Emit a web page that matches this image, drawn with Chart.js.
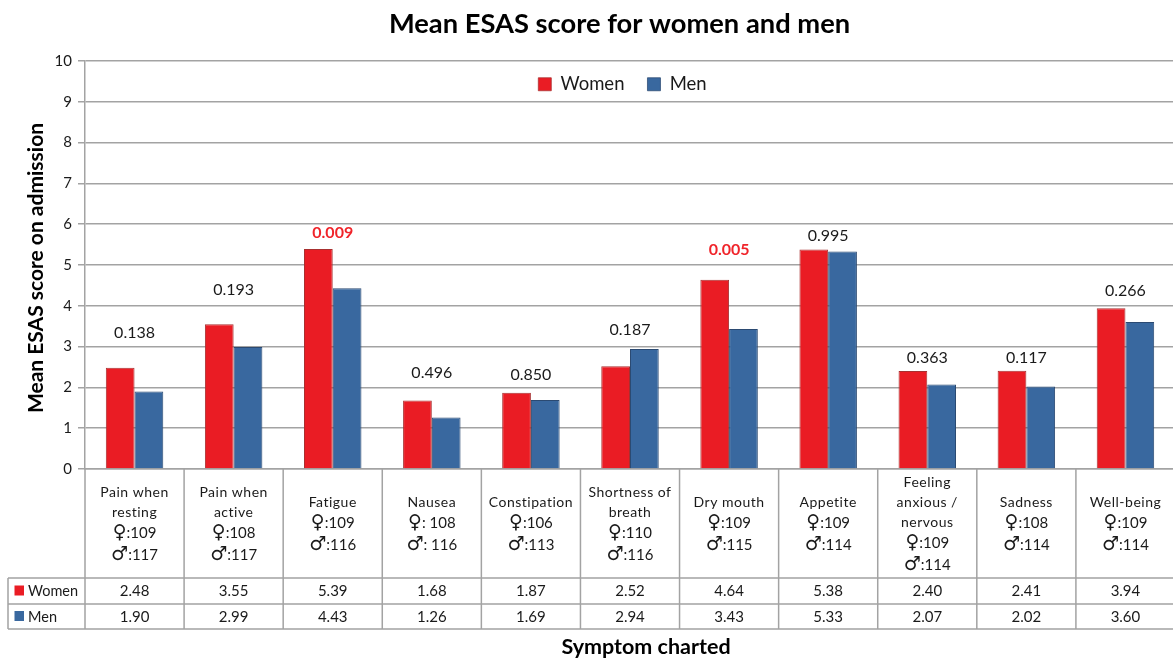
<!DOCTYPE html>
<html><head><meta charset="utf-8">
<style>html,body{margin:0;padding:0;background:#fff;overflow:hidden;width:1173px;height:659px}canvas{display:block}</style>
<script src="https://cdn.jsdelivr.net/npm/chart.js@4"></script></head>
<body><canvas id="c" width="1176" height="659"></canvas>
<script>
const categories=[["Pain when","resting"],["Pain when","active"],["Fatigue"],["Nausea"],["Constipation"],["Shortness of","breath"],["Dry mouth"],["Appetite"],["Feeling","anxious /","nervous"],["Sadness"],["Well-being"]];
const women=[2.48,3.55,5.39,1.68,1.87,2.52,4.64,5.38,2.40,2.41,3.94];
const men=[1.90,2.99,4.43,1.26,1.69,2.94,3.43,5.33,2.07,2.02,3.60];
const womenN=[":109",":108",":109",": 108",":106",":110",":109",":109",":109",":108",":109"];
const menN=[":117",":117",":116",": 116",":113",":116",":115",":114",":114",":114",":114"];
const pValues=["0.138","0.193","0.009","0.496","0.850","0.187","0.005","0.995","0.363","0.117","0.266"];
const pLevels=[3.33,4.39,5.78,2.35,2.30,3.40,5.37,5.71,2.72,2.72,4.36];
const significant=["0.009","0.005"];
const symptomTitle="Symptom charted";
const scoreTitle="Mean ESAS score on admission";
const RED="#ea1c24",BLUE="#39689f",LINE="#a3a3a3",TXT="#1a1a1a";
const BODY="Lato, 'DejaVu Sans', sans-serif";

const tablePlugin={id:"table",
 beforeLayout(chart){
  const lg=chart.legend;
  if(lg&&!lg._patched){const f=lg.fit;lg.fit=function(){f.call(this);this.height=0;};lg._patched=true;}
 },
 afterLayout(chart){
  chart.titleBlock.left+=32;chart.titleBlock.right+=32;
  const lg=chart.legend;
  lg.left+=35;lg.right+=35;lg.top=52;lg.bottom=120;
 },
 afterDatasetsDraw(chart){
  const ctx=chart.ctx,x=chart.scales.x,y=chart.scales.y;
  ctx.save();
  ctx.textAlign="center";ctx.textBaseline="middle";
  pValues.forEach((p,i)=>{
   const sig=significant.includes(p);
   ctx.font=(sig?"bold ":"")+"16px "+BODY;
   ctx.fillStyle=sig?"#f0242a":TXT;
   ctx.fillText(p,x.getPixelForTick(i),y.getPixelForValue(pLevels[i]));
  });
  const top=y.getPixelForValue(0),r1=578,r2=604,bot=629,tl=8;
  ctx.strokeStyle=LINE;ctx.lineWidth=1.5;
  ctx.beginPath();
  [r1,r2,bot].forEach(v=>{ctx.moveTo(tl,v);ctx.lineTo(x.right,v);});
  ctx.moveTo(tl,r1);ctx.lineTo(tl,bot);
  ctx.moveTo(x.left,top);ctx.lineTo(x.left,bot);
  categories.forEach((c,i)=>{const v=x.left+(x.right-x.left)*(i+1)/categories.length;ctx.moveTo(v,top);ctx.lineTo(v,bot);});
  ctx.stroke();
  ctx.fillStyle=TXT;
  const mid=(top+r1)/2+0.5;
  const SYM="19px 'DejaVu Sans', sans-serif",NUM="15px "+BODY;
  categories.forEach((c,i)=>{
   const cx=x.getPixelForTick(i);
   const h=c.length*20+2*22;
   let yy=mid-h/2+10;
   ctx.textAlign="center";
   ctx.font="14px "+BODY;ctx.letterSpacing="0.5px";
   c.forEach(l=>{ctx.fillText(l,cx,yy);yy+=20;});
   yy+=1;
   ctx.letterSpacing="0px";
   [["\u2640",womenN[i]],["\u2642",menN[i]]].forEach(([s,n])=>{
    ctx.font=SYM;const sw=ctx.measureText(s).width;
    ctx.font=NUM;const nw=ctx.measureText(n).width;
    const x0=cx-(sw+nw)/2;
    ctx.textAlign="left";
    ctx.font=SYM;ctx.fillText(s,x0,yy);
    ctx.font=NUM;ctx.fillText(n,x0+sw,yy);
    yy+=22;
   });
   ctx.textAlign="center";
   ctx.font=NUM;
   ctx.fillText(women[i].toFixed(2),cx,591.5);
   ctx.fillText(men[i].toFixed(2),cx,617);
  });
  ctx.textAlign="left";
  ctx.font="14.5px "+BODY;
  ctx.fillText(chart.data.datasets[0].label,28,591.5);
  ctx.fillText(chart.data.datasets[1].label,28,617);
  ctx.fillStyle=RED;ctx.fillRect(14.5,585.5,9.5,10);
  ctx.fillStyle=BLUE;ctx.fillRect(14.5,611,9.5,10);
  ctx.textAlign="center";ctx.fillStyle="#000";
  ctx.font="bold 21.5px "+BODY;
  ctx.fillText(symptomTitle,646,647);
  ctx.translate(36,268);ctx.rotate(-Math.PI/2);
  ctx.font="bold 21px "+BODY;
  ctx.fillText(scoreTitle,0,0);
  ctx.restore();
 }};

new Chart(document.getElementById("c"),{
 type:"bar",
 data:{labels:categories.map(c=>c.join(" ")),datasets:[
  {label:"Women",data:women,backgroundColor:RED,borderColor:"#a83030",borderWidth:{left:1,right:1,top:1,bottom:0},borderSkipped:false},
  {label:"Men",data:men,backgroundColor:BLUE,borderColor:"#2b4a72",borderWidth:{left:1,right:1,top:1,bottom:0},borderSkipped:false}
 ]},
 plugins:[tablePlugin],
 options:{
  responsive:false,animation:false,
  layout:{padding:{left:0,right:1,top:0,bottom:0}},
  datasets:{bar:{categoryPercentage:0.58,barPercentage:1}},
  plugins:{
   tooltip:{enabled:false},
   title:{display:true,text:"Mean ESAS score for women and men",color:"#000",font:{family:BODY,size:27.3,weight:"bold"},padding:{top:8,bottom:20.2},lineHeight:1.2},
   legend:{display:true,position:"top",labels:{boxWidth:13,boxHeight:13,padding:23,color:TXT,font:{family:BODY,size:18.5}}}
  },
  scales:{
   x:{type:"category",grid:{display:false,drawTicks:false},border:{display:true,color:LINE,width:1.5},ticks:{display:false},
      afterFit(s){s.height=190;}},
   y:{min:0,max:10,ticks:{stepSize:1,color:TXT,font:{family:BODY,size:15},padding:6},
      grid:{color:LINE,lineWidth:1.5,tickLength:7},border:{color:LINE,width:1.5},
      afterFit(s){s.width=85;}}
  }
 }
});
</script></body></html>
